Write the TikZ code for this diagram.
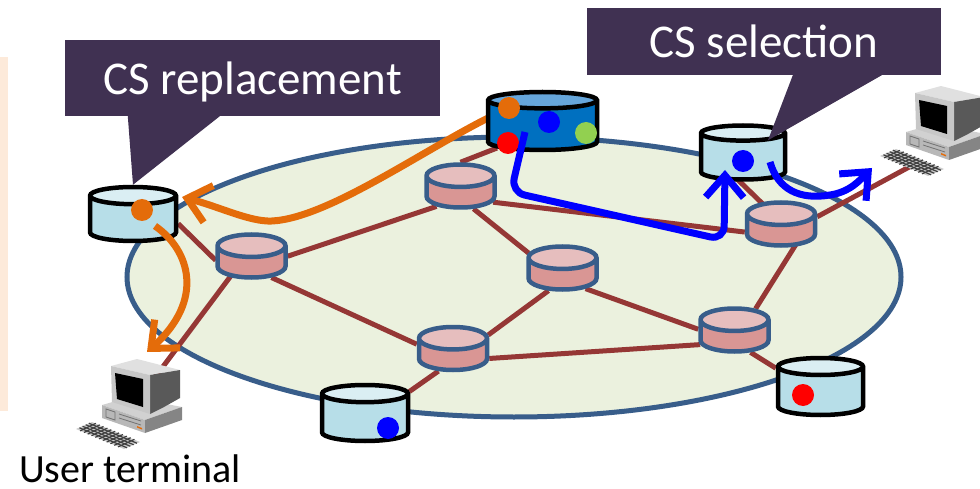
\documentclass[tikz,border=0pt]{standalone}
\usepackage{fontspec}
\setmainfont{Carlito}
\usetikzlibrary{shapes.geometric, arrows.meta, calc, backgrounds}

\definecolor{calloutpurple}{RGB}{64, 49, 82}
\definecolor{netfill}{RGB}{235, 241, 222}
\definecolor{netline}{RGB}{56, 93, 138}
\definecolor{linkred}{RGB}{149, 55, 53}
\definecolor{routerbody}{RGB}{217, 150, 148}
\definecolor{routertop}{RGB}{230, 190, 190}
\definecolor{csbody}{RGB}{183, 222, 232}
\definecolor{cstop}{RGB}{218, 238, 243}
\definecolor{originbody}{RGB}{0, 112, 192}
\definecolor{origintop}{RGB}{102, 166, 219}
\definecolor{flowgreen}{RGB}{146, 208, 80}
\definecolor{floworange}{RGB}{228, 108, 10}
\definecolor{peach}{RGB}{253, 234, 218}

\tikzset{
    router/.style={cylinder, shape border rotate=90, aspect=0.33, draw=netline, line width=4.5pt,
                   cylinder uses custom fill, cylinder body fill=routerbody, cylinder end fill=routertop,
                   inner xsep=34pt, inner ysep=0pt, minimum height=43pt, anchor=shape center},
    cache/.style={cylinder, shape border rotate=90, aspect=0.2, draw=black, line width=4.5pt,
                  cylinder uses custom fill, cylinder body fill=csbody, cylinder end fill=cstop,
                  inner xsep=43pt, inner ysep=0pt, minimum height=54pt, anchor=shape center},
    origin/.style={cache, cylinder body fill=originbody, cylinder end fill=origintop,
                   inner xsep=54.5pt, minimum height=58pt, aspect=0.15},
    content/.style={circle, inner sep=0pt, minimum size=22pt},
    link/.style={linkred, line width=5pt},
    callout/.style={fill=calloutpurple, text=white, font=\fontsize{47}{50}\selectfont,
                    text depth=0pt, inner sep=0pt},
    fetcharrow/.style={floworange, line width=7pt, -{Straight Barb[length=22pt, width=38pt]}},
    deliverarrow/.style={blue, line width=7pt, -{Straight Barb[length=22pt, width=38pt]}},
    pics/computer/.style={code={
        % keyboard
        \fill[gray!40] (-61,39) -- (-45,32) -- (3,52) -- (-13,59) -- cycle;
        \foreach \f in {0.2,0.4,0.6,0.8}
            \draw[black!75, line width=1.2pt] ({-60.7+15.7*\f},{39.3-7.6*\f}) -- ({-13.3+16.6*\f},{59.3-7.6*\f});
        \foreach \f in {0.08,0.16,...,0.9}
            \draw[black!75, line width=1.2pt] ({-60.7+47.4*\f},{39.3+20*\f}) -- ({-45+48.3*\f},{31.7+20*\f});
        % base unit
        \fill[black!18] (-35,15) -- (-7,7) -- (45,17) -- (8,30) -- cycle;
        \fill[black!28] (-35,15) -- (8,30) -- (8,43) -- (-35,28) -- cycle;
        \fill[black!48] (8,30) -- (45,17) -- (45,30) -- (8,43) -- cycle;
        \draw[black!55, line width=0.8pt] (-31,19) -- (-22,22) -- (-22,30) -- (-31,27) -- cycle
            (-18,24) -- (4,31) (-18,28) -- (4,35);
        \fill[floworange] (0,36) -- (5,38) -- (5,39.5) -- (0,37.5) -- cycle;
        % monitor
        \fill[black!12] (-26,-24) -- (0,-31) -- (43,-20) -- (13,-15) -- cycle;
        \fill[black!65] (13,-15) -- (43,-20) -- (43,8) -- (27,17) -- (13,24) -- cycle;
        \fill[black!22] (-26,-24) -- (13,-15) -- (13,24) -- (-25,12) -- cycle;
        \fill[black] (-22,-17) -- (6,-11) -- (6,17) -- (-20,9) -- cycle;
        \coordinate (-c) at (0,0);
        \coordinate (-mon) at (16,-10);
        \coordinate (-kbd) at (-30,49);
    }},
}

\begin{document}
\begin{tikzpicture}[x=1pt, y=-1pt]
    \useasboundingbox (0,0) rectangle (980,489);
    \fill[peach] (0,57) rectangle (8,411);

    % the network area
    \begin{scope}[on background layer]
        \draw[netline, fill=netfill, line width=5pt] (514,277) ellipse [x radius=387, y radius=140];
    \end{scope}

    % routers
    \node[router] (r1) at (251.5,256) {};
    \node[router] (r2) at (460.5,186) {};
    \node[router] (r3) at (562.5,268) {};
    \node[router] (r4) at (453,348.5) {};
    \node[router] (r5) at (781,224) {};
    \node[router] (r6) at (734.5,330) {};

    % cache servers and the origin
    \node[origin] (org) at (542.5,121) {};
    \node[cache] (lcs) at (133,214) {};
    \node[cache, inner xsep=42pt, aspect=0.18] (scs) at (743,152.5) {};
    \node[cache, minimum height=56pt] (bcs) at (365,413) {};
    \node[cache, inner xsep=42.5pt, minimum height=57pt] (rcs) at (820.5,386.5) {};

    % terminals
    \pic (ut) at (137,390) {computer};
    \pic (pc) at (941,117) {computer};

    \begin{scope}[on background layer]
        \draw[link] (lcs.east) -- ($(r1.west)+(0,-8)$);
        \draw[link] (r1) -- (r2);
        \draw[link] (r1) -- (r4);
        \draw[link] ($(r1)+(-15,0)$) -- (ut-mon);
        \draw[link] (r2.north) -- (org);
        \draw[link] (r2) -- (r3);
        \draw[link] (r2) -- (r5);
        \draw[link] (r3) -- (r4);
        \draw[link] (r3) -- (r6);
        \draw[link] (r4) -- (r6);
        \draw[link] (r4) -- (bcs);
        \draw[link] (r6) -- (rcs);
        \draw[link] (r6) -- ($(r5)+(20,0)$);
        \draw[link] ($(scs)+(-18,6)$) -- ($(r5)+(15,0)$);
        \draw[link] (r5) -- (pc-kbd);
    \end{scope}

    % contents held by each server
    \node[content, fill=floworange] (od) at ($(org.shape center)+(-33.5,-13)$) {};
    \node[content, fill=blue] (bd) at ($(org.shape center)+(6.5,1)$) {};
    \node[content, fill=flowgreen] (gd) at ($(org.shape center)+(43.5,12)$) {};
    \node[content, fill=red] (rd) at ($(org.shape center)+(-34.5,22)$) {};
    \node[content, fill=floworange] (ld) at ($(lcs.shape center)+(9,-4)$) {};
    \node[content, fill=blue] (sd) at ($(scs.shape center)+(0,8.5)$) {};
    \node[content, fill=blue] (bbd) at ($(bcs.shape center)+(23,15)$) {};
    \node[content, fill=red] (rrd) at ($(rcs.shape center)+(-17.5,8.5)$) {};

    % replacement path, partly behind the origin
    \begin{scope}[on background layer]
        \draw[fetcharrow] (od) .. controls (430,145) and (330,218) .. (272,221)
            .. controls (250,222) and (220,207) .. ($(lcs.shape center)+(49,-17)$);
    \end{scope}
    \draw[fetcharrow] ($(ld)+(13,16)$) .. controls (190,250) and (205,300) .. ($(ut-c)+(10,-38)$);

    % selection path
    \draw[deliverarrow, rounded corners=14pt] ($(bd)+(-24,10)$) -- (511,192) -- (724,240) -- ($(sd)+(-18,9)$);
    \draw[deliverarrow] ($(sd)+(27,1)$) .. controls (778,190) and (800,200) .. (830,195)
        .. controls (850,192) and (860,180) .. ($(pc-c)+(-69,51)$);

    % callouts
    \node[callout, minimum width=375pt, minimum height=76pt] (repl) at (252.5,78) {CS replacement};
    \fill[calloutpurple] ($(repl.south west)+(63,0)$) -- (lcs.north) -- ($(repl.south west)+(155,0)$) -- cycle;
    \node[callout, minimum width=354pt, minimum height=67pt] (sel) at (764,41.5) {CS selection};
    \fill[calloutpurple] ($(sel.south west)+(206,0)$) -- ($(scs.north)+(25,17)$) -- ($(sel.south west)+(295,0)$) -- cycle;

    \node[font=\fontsize{40}{44}\selectfont, anchor=base] (utlabel) at (130,482) {User terminal};
\end{tikzpicture}
\end{document}
